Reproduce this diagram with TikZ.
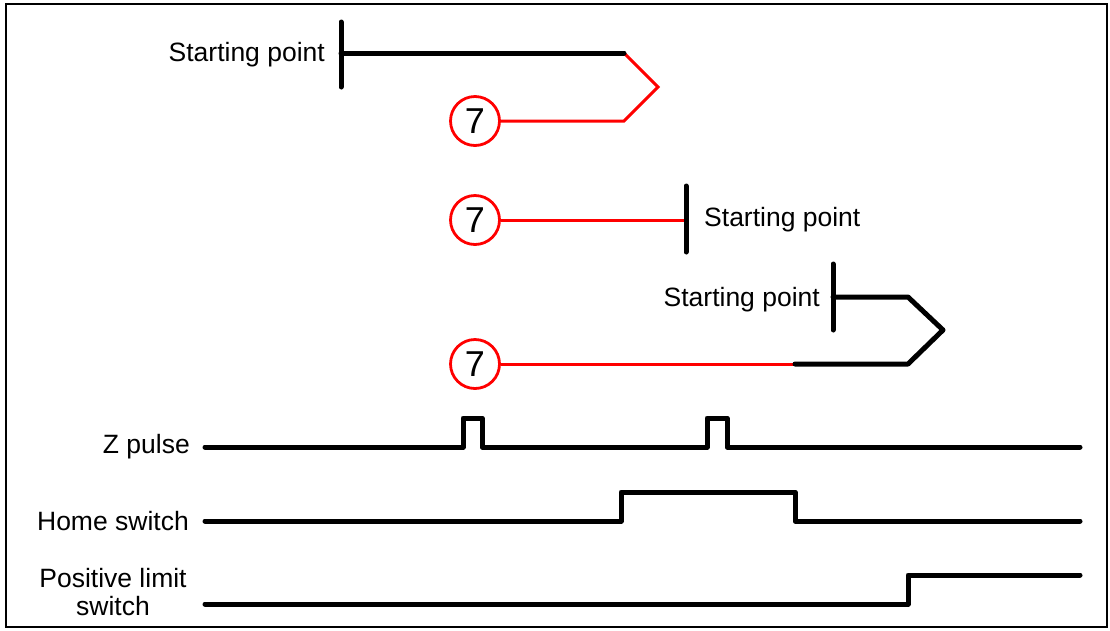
\documentclass[tikz,border=0pt]{standalone}
\usepackage{fontspec}
\setmainfont{Liberation Sans}
\begin{document}
\begin{tikzpicture}[x=1pt,y=-1pt,
  lbl/.style={inner sep=0pt,font=\fontsize{26.5}{30}\selectfont},
  num/.style={circle,draw=red,line width=2.8pt,minimum size=49pt,inner sep=0pt,font=\fontsize{36}{40}\selectfont},
  blk/.style={line width=5pt,line cap=round,line join=round},
  redl/.style={red,line width=3pt,line join=miter},
  sig/.style={line width=5pt,line cap=round,line join=round}]
\useasboundingbox (0,0) rectangle (1110,630);
\draw[line width=2pt] (6,4) rectangle (1107,627);

% first path
\coordinate (s1t) at (341,22); \coordinate (s1b) at (341,87);
\coordinate (s1) at (341,53);
\draw[blk] (s1t) -- (s1b);
\node[lbl,anchor=east] (l1) at (325,55) {Starting point};
\coordinate (t1) at (624,53); \coordinate (t1r) at (658,87); \coordinate (t1b) at (624,121);
\node[num] (c1) at (475,121) {7};
\draw[redl] (t1) -- (t1r) -- (t1b) -- (c1.east);
\draw[blk] (s1) -- (t1);

% second path
\node[num] (c2) at (475,220) {7};
\coordinate (s2t) at (686,186); \coordinate (s2b) at (686,252); \coordinate (s2) at (686,220);
\draw[redl] (c2.east) -- (s2);
\draw[blk] (s2t) -- (s2b);
\node[lbl,anchor=west] (l2) at (704,220) {Starting point};

% third path
\coordinate (s3t) at (833,264); \coordinate (s3b) at (833,330); \coordinate (s3) at (833,297);
\coordinate (t3) at (908,297); \coordinate (t3r) at (943,330); \coordinate (t3b) at (908,364);
\coordinate (m3) at (795,364);
\node[num] (c3) at (475,364) {7};
\draw[redl] (c3.east) -- (m3);
\draw[blk] (s3) -- (t3) -- (t3r) -- (t3b) -- (m3);
\draw[blk] (s3t) -- (s3b);
\node[lbl,anchor=east] (l3) at (820,300) {Starting point};

% signals
\node[lbl,anchor=east] (zl) at (190,447) {Z pulse};
\node[lbl,anchor=east] (hl) at (189,521) {Home switch};
\node[lbl,align=center] (pl) at (113,592) {Positive limit\\[-2pt]switch};
\coordinate (z0) at (205,447); \coordinate (z1) at (1080,447);
\draw[sig] (z0) -- (463,447) -- (463,418) -- (482,418) -- (482,447) -- (707,447) -- (707,418) -- (727,418) -- (727,447) -- (z1);
\coordinate (h0) at (205,521); \coordinate (h1) at (1080,521);
\draw[sig] (h0) -- (621,521) -- (621,492) -- (795,492) -- (795,521) -- (h1);
\coordinate (p0) at (205,604); \coordinate (p1) at (1080,575);
\draw[sig] (p0) -- (908,604) -- (908,575) -- (p1);
\end{tikzpicture}
\end{document}
